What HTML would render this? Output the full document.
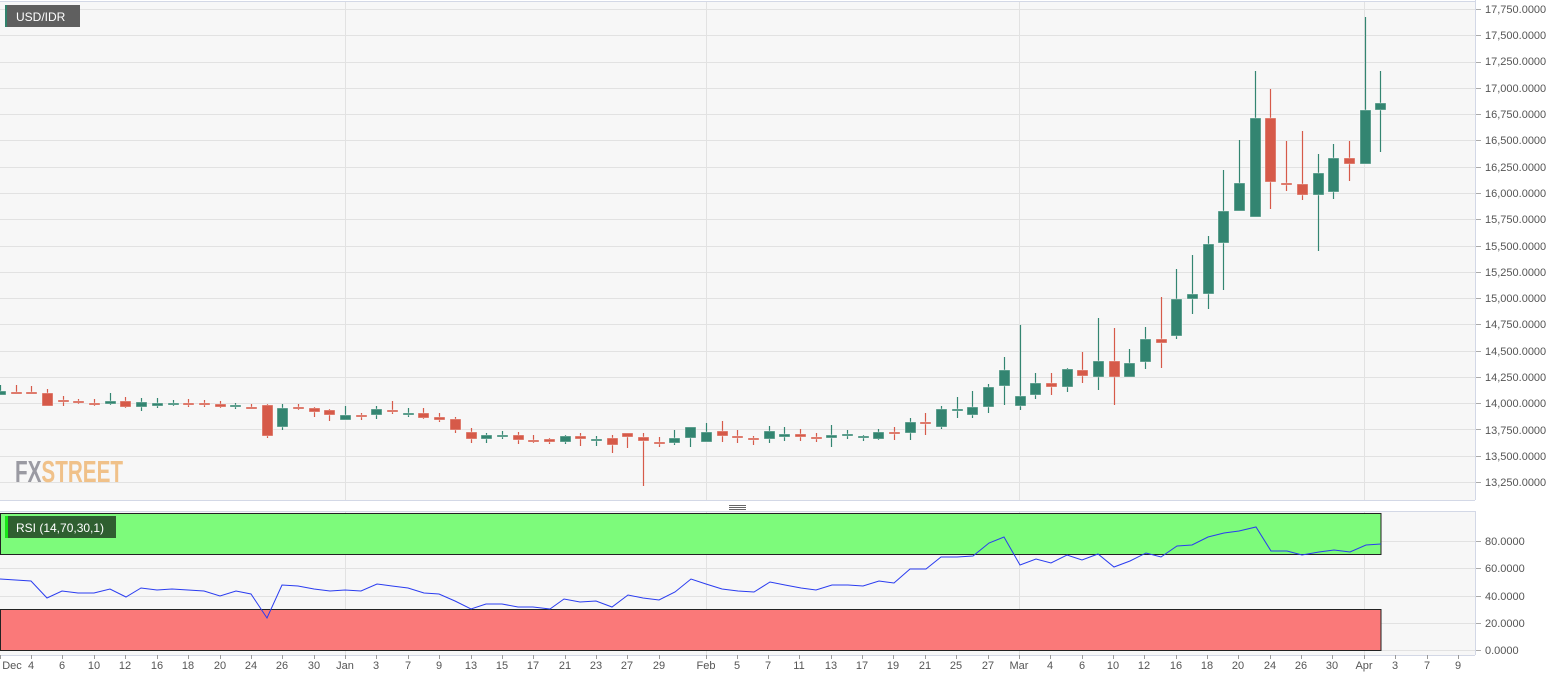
<!DOCTYPE html>
<html><head><meta charset="utf-8"><style>
html,body{margin:0;padding:0;background:#fff;}
svg{display:block;font-family:"Liberation Sans",sans-serif;}
</style></head><body>
<svg id="s" width="1565" height="678" viewBox="0 0 1565 678" xmlns="http://www.w3.org/2000/svg">
<rect x="0" y="0" width="1565" height="678" fill="#fff"/>
<rect x="0" y="2" width="1475" height="498" fill="#f7f7f7"/>
<rect x="0" y="512" width="1475" height="143" fill="#f7f7f7"/>
<g id="grid" stroke="#e2e2e2" stroke-width="1"></g>
<line x1="0" y1="1.5" x2="1475" y2="1.5" stroke="#d3d8e6"/>
<line x1="1475.5" y1="0" x2="1475.5" y2="500" stroke="#d3d8e6"/>
<line x1="0" y1="500.5" x2="1475" y2="500.5" stroke="#d3d8e6"/>
<line x1="0" y1="511.5" x2="1475" y2="511.5" stroke="#d3d8e6"/>
<line x1="1475.5" y1="511" x2="1475.5" y2="655" stroke="#d3d8e6"/>
<line x1="0" y1="655.5" x2="1475" y2="655.5" stroke="#d3d8e6"/>
<g stroke="#666"><line x1="729" y1="505.5" x2="746" y2="505.5"/><line x1="729" y1="507.5" x2="746" y2="507.5"/><line x1="729" y1="509.5" x2="746" y2="509.5"/></g>
<text x="15" y="482" font-size="31" font-weight="bold" textLength="108" lengthAdjust="spacingAndGlyphs"><tspan fill="#9a9aa2">FX</tspan><tspan fill="#f0c189">STREET</tspan></text>
<g id="candles"></g>
<rect x="0.5" y="513.5" width="1380.5" height="41" fill="#7dfb7b" stroke="#222"/>
<rect x="0.5" y="609.5" width="1380.5" height="41" fill="#fa7979" stroke="#222"/>
<polyline id="rsi" fill="none" stroke="#2a3cf0" stroke-width="1"/>
<rect x="5" y="5" width="75" height="22" fill="#5f5f5f"/>
<rect x="5" y="5" width="2" height="22" fill="#31826c"/>
<text x="16" y="21" font-size="12" fill="#fff">USD/IDR</text>
<rect x="5" y="516" width="111" height="22" fill="#2f5f30"/>
<rect x="5" y="516" width="3" height="22" fill="#19e619"/>
<text x="16" y="532" font-size="12" fill="#fff">RSI (14,70,30,1)</text>
<g font-size="11" fill="#555">
<text x="1485" y="13">17,750.0000</text><text x="1485" y="39">17,500.0000</text><text x="1485" y="65">17,250.0000</text><text x="1485" y="92">17,000.0000</text><text x="1485" y="118">16,750.0000</text><text x="1485" y="144">16,500.0000</text><text x="1485" y="171">16,250.0000</text><text x="1485" y="197">16,000.0000</text><text x="1485" y="223">15,750.0000</text><text x="1485" y="250">15,500.0000</text><text x="1485" y="276">15,250.0000</text><text x="1485" y="302">15,000.0000</text><text x="1485" y="328">14,750.0000</text><text x="1485" y="355">14,500.0000</text><text x="1485" y="381">14,250.0000</text><text x="1485" y="407">14,000.0000</text><text x="1485" y="434">13,750.0000</text><text x="1485" y="460">13,500.0000</text><text x="1485" y="486">13,250.0000</text>
<text x="1485" y="545">80.0000</text><text x="1485" y="572">60.0000</text><text x="1485" y="600">40.0000</text><text x="1485" y="627">20.0000</text><text x="1485" y="654">0.0000</text>
</g>
<g font-size="11" fill="#555" text-anchor="middle" id="xl">
<text x="12" y="669">Dec</text><text x="31" y="669">4</text><text x="62" y="669">6</text><text x="94" y="669">10</text><text x="125" y="669">12</text><text x="157" y="669">16</text><text x="188" y="669">18</text><text x="220" y="669">20</text><text x="251" y="669">24</text><text x="282" y="669">26</text><text x="314" y="669">30</text><text x="345" y="669">Jan</text><text x="376" y="669">3</text><text x="408" y="669">7</text><text x="439" y="669">9</text><text x="471" y="669">13</text><text x="502" y="669">15</text><text x="533" y="669">17</text><text x="565" y="669">21</text><text x="596" y="669">23</text><text x="627" y="669">27</text><text x="659" y="669">29</text><text x="706" y="669">Feb</text><text x="737" y="669">5</text><text x="768" y="669">7</text><text x="799" y="669">11</text><text x="831" y="669">13</text><text x="862" y="669">17</text><text x="893" y="669">19</text><text x="925" y="669">21</text><text x="956" y="669">25</text><text x="988" y="669">27</text><text x="1019" y="669">Mar</text><text x="1050" y="669">4</text><text x="1082" y="669">6</text><text x="1113" y="669">10</text><text x="1144" y="669">12</text><text x="1176" y="669">16</text><text x="1207" y="669">18</text><text x="1238" y="669">20</text><text x="1270" y="669">24</text><text x="1301" y="669">26</text><text x="1332" y="669">30</text><text x="1364" y="669">Apr</text><text x="1395" y="669">3</text><text x="1427" y="669">7</text><text x="1458" y="669">9</text>
</g>
<g id="ticks" stroke="#999"></g>
</svg>
<script>
var NS="http://www.w3.org/2000/svg";
function el(p,t,a){var e=document.createElementNS(NS,t);for(var k in a)e.setAttribute(k,a[k]);p.appendChild(e);return e;}
var g=document.getElementById("grid");
for(var k=0;k<19;k++){var y=Math.round(9+26.28*k)+0.5;el(g,"line",{x1:0,y1:y,x2:1475,y2:y});el(g,"line",{x1:1475,y1:y,x2:1481,y2:y,stroke:"#aaa"});}
[541,568,596,623,650].forEach(function(y){el(g,"line",{x1:0,y1:y+.5,x2:1475,y2:y+.5});el(g,"line",{x1:1475,y1:y+.5,x2:1481,y2:y+.5,stroke:"#aaa"});});
[345,706,1019,1364].forEach(function(x){el(g,"line",{x1:x+.5,y1:2,x2:x+.5,y2:500});el(g,"line",{x1:x+.5,y1:512,x2:x+.5,y2:655});});
var tk=document.getElementById("ticks");
[0,31,62,94,125,157,188,220,251,282,314,345,376,408,439,471,502,533,565,596,627,659,706,737,768,799,831,862,893,925,956,988,1019,1050,1082,1113,1144,1176,1207,1238,1270,1301,1332,1364,1395,1427,1458].forEach(function(x){el(tk,"line",{x1:x+.5,y1:655,x2:x+.5,y2:659});});
var G="#338571",R="#d65a49";
var c=[
[0,G,391,395,385,395],[1,R,392,392,385,394],[2,R,392,393,386,394],[3,R,393,406,389,406],[4,R,400,400,396,406],[5,R,401,403,399,404],[6,R,403,403,399,406],[7,G,401,404,393,405],[8,R,401,407,397,408],[9,G,402,407,398,411],[10,G,403,406,398,408],[11,G,403,403,400,406],[12,R,403,403,399,407],[13,R,403,404,400,407],[14,R,404,407,401,408],[15,G,405,407,403,409],[16,R,407,408,404,409],[17,R,405,436,404,438],[18,G,408,427,404,430],[19,R,407,408,404,410],[20,R,408,412,407,417],[21,R,410,415,409,421],[22,G,415,420,406,420],[23,R,415,415,413,420],[24,G,409,415,406,419],[25,R,410,410,401,414],[26,G,413,413,408,417],[27,R,413,418,408,419],[28,R,417,420,413,422],[29,R,419,430,417,433],[30,R,432,439,428,443],[31,G,435,439,433,443],
[32,G,435,435,431,439],[33,R,435,440,432,444],[34,R,440,440,435,443],[35,R,439,442,438,444],[36,G,436,442,435,444],[37,R,436,439,433,446],[38,G,439,439,436,446],[39,R,438,445,435,453],[40,R,433,437,433,448],[41,R,437,441,433,486],[42,R,442,442,437,447],[43,G,438,443,430,445],[44,G,427,438,427,447],[45,G,432,442,423,442],[46,R,431,436,421,442],[47,R,436,438,430,443],[48,R,438,439,436,445],[49,G,431,439,426,443],[50,G,434,437,427,441],[51,R,434,437,429,441],[52,R,437,437,433,442],[53,G,435,438,425,447],[54,G,434,434,430,439],[55,G,436,436,435,441],[56,G,432,439,429,440],[57,R,432,432,427,440],[58,G,422,433,418,440],[59,R,422,422,413,435],[60,G,409,427,406,429],[61,G,409,409,397,418],[62,G,407,415,391,418],
[63,G,387,407,384,413],[64,G,370,386,357,405],[65,G,396,406,325,410],[66,G,383,395,373,399],[67,R,383,387,373,395],[68,G,369,387,368,392],[69,R,370,376,352,383],[70,G,361,377,318,390],[71,R,361,377,328,405],[72,G,363,377,349,377],[73,G,339,362,327,369],[74,R,339,343,297,368],[75,G,299,336,269,339],[76,G,294,299,255,314],[77,G,244,294,236,309],[78,G,211,243,170,290],[79,G,183,211,140,211],[80,G,118,217,71,217],[81,R,118,182,89,209],[82,R,183,183,141,191],[83,R,184,195,131,200],[84,G,173,195,154,251],[85,G,158,192,144,199],[86,R,158,164,141,181],[87,G,110,164,17,164],[88,G,103,110,71,152]];
var cg=document.getElementById("candles");
c.forEach(function(d){var x=Math.round(d[0]*15.685);el(cg,"line",{x1:x+.5,y1:d[4],x2:x+.5,y2:d[5],stroke:d[1],"stroke-width":1.2});var h=Math.max(d[3]-d[2],2);el(cg,"rect",{x:x-5,y:d[2],width:11,height:h,fill:d[1],stroke:"rgba(255,255,255,0.5)","stroke-width":0.8});});
var r=[[0,579],[31,581],[47,598],[62,591],[78,593],[94,593],[110,589],[126,597],[141,588],[157,590],[172,589],[188,590],[204,591],[220,596],[236,591],[251,594],[267,618],[282,585],[298,586],[314,589],[330,591],[345,590],[361,591],[377,584],[392,586],[408,588],[424,593],[439,594],[455,601],[471,609],[486,604],[502,604],[518,607],[533,607],[550,609],[564,599],[580,602],[596,601],[612,607],[628,595],[643,598],[659,600],[675,592],[691,579],[706,584],[722,589],[738,591],[754,592],[770,582],[785,585],[801,588],[816,590],[832,585],[848,585],[863,586],[879,581],[894,583],[910,569],[926,569],[941,557],[957,557],[973,556],[989,543],[1004,537],[1020,565],[1036,559],[1051,563],[1067,555],[1082,560],[1098,554],[1114,567],[1130,561],[1146,553],[1161,557],[1177,546],[1192,545],[1208,537],[1224,533],[1239,531],[1256,527],[1271,551],[1287,551],[1302,555],[1319,552],[1334,550],[1350,552],[1366,545],[1381,544]];
document.getElementById("rsi").setAttribute("points",r.map(function(p){return p.join(",");}).join(" "));
</script>
</body></html>
